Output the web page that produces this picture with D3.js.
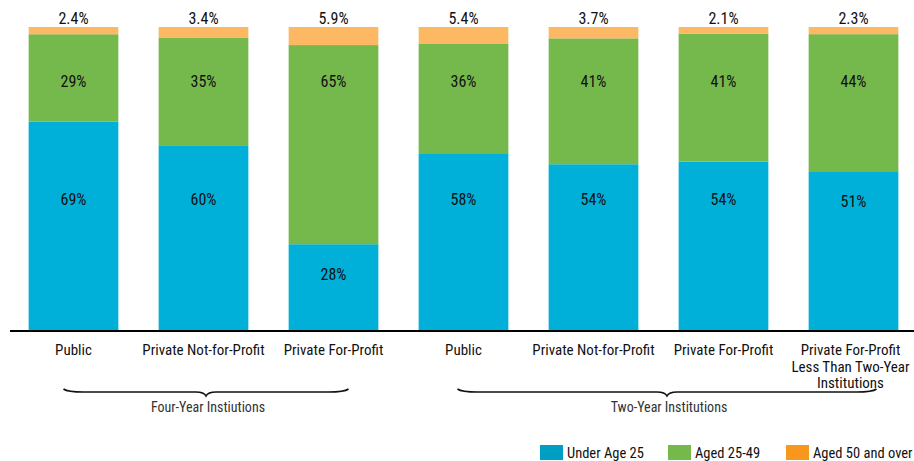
<!DOCTYPE html>
<html lang="en">
  <head>
    <meta charset="utf-8">
    <script src="https://d3js.org/d3.v7.min.js"></script>
    <style>
      body { margin: 0; background: #fff; }
      text { font-family: "Liberation Sans Narrow", "Arial Narrow", "Roboto Condensed", sans-serif; }
    </style>
  </head>
  <body>
    <svg width="914" height="461"></svg>
    <script>
      // categories (one entry per bar), label lines split by "|"
      var categories = [
        "Public",
        "Private Not-for-Profit",
        "Private For-Profit",
        "Public",
        "Private Not-for-Profit",
        "Private For-Profit",
        "Private For-Profit|Less Than Two-Year|Institutions"
      ];
      var series = ["Under Age 25", "Aged 25-49", "Aged 50 and over"];
      var under25 = [69, 60, 28, 58, 54, 54, 51];
      var aged25to49 = [29, 35, 65, 36, 41, 41, 44];
      var aged50plus = [2.4, 3.4, 5.9, 5.4, 3.7, 2.1, 2.3];

      // groups of bars under a brace
      var groups = [
        { name: "Four-Year Instiutions", first: 0, last: 2 },
        { name: "Two-Year Institutions", first: 3, last: 6 }
      ];

      var barColors = ["#00b0d8", "#75b84c", "#fdb863"];
      var legendColors = ["#009ec3", "#75b84c", "#f7971e"];

      var svg = d3.select("svg");

      // build rows for the stack
      var rows = categories.map(function (c, i) {
        return { idx: i, cat: c, s0: under25[i], s1: aged25to49[i], s2: aged50plus[i] };
      });

      var stack = d3.stack()
        .keys(["s0", "s1", "s2"])
        .offset(d3.stackOffsetExpand);
      var layers = stack(rows);

      var x = d3.scaleBand()
        .domain(d3.range(categories.length))
        .range([8.5, 918.5])
        .paddingInner(0.31)
        .paddingOuter(0.155);

      var y = d3.scaleLinear().domain([0, 1]).range([330, 27]);

      // bars
      svg.append("g")
        .selectAll("g")
        .data(layers)
        .enter()
        .append("g")
        .attr("fill", function (d, i) { return barColors[i]; })
        .selectAll("rect")
        .data(function (d) { return d; })
        .enter()
        .append("rect")
        .attr("x", function (d) { return x(d.data.idx); })
        .attr("width", x.bandwidth())
        .attr("y", function (d) { return y(d[1]); })
        .attr("height", function (d) { return y(d[0]) - y(d[1]); });

      // value labels inside the blue and green segments
      var labelPos = [0.43, 0.82];
      [0, 1].forEach(function (k) {
        var vals = k === 0 ? under25 : aged25to49;
        svg.append("g")
          .selectAll("text")
          .data(layers[k])
          .enter()
          .append("text")
          .attr("x", function (d) { return x(d.data.idx) + x.bandwidth() / 2; })
          .attr("y", function (d) {
            var top = y(d[1]), bot = y(d[0]);
            var p = y(labelPos[k]);
            p = Math.max(p, top + 30);
            p = Math.min(p, (top + bot) / 2 + 6);
            return p;
          })
          .attr("dy", "0.35em")
          .attr("text-anchor", "middle")
          .style("font-size", "16px")
          .style("fill", "#111")
          .text(function (d, i) { return vals[i] + "%"; });
      });

      // small values above the bars
      svg.append("g")
        .selectAll("text")
        .data(layers[2])
        .enter()
        .append("text")
        .attr("x", function (d) { return x(d.data.idx) + x.bandwidth() / 2; })
        .attr("y", function (d) { return y(d[1]) - 3; })
        .attr("text-anchor", "middle")
        .style("font-size", "16px")
        .style("fill", "#111")
        .text(function (d, i) { return aged50plus[i] + "%"; });

      // baseline
      svg.append("line")
        .attr("x1", 10).attr("x2", 914)
        .attr("y1", y(0) + 1).attr("y2", y(0) + 1)
        .style("stroke", "#000")
        .style("stroke-width", 2);

      // category labels
      svg.append("g")
        .selectAll("text")
        .data(categories)
        .enter()
        .append("text")
        .attr("x", function (d, i) { return x(i) + x.bandwidth() / 2 - (i === 6 ? 3 : 0); })
        .attr("y", 355)
        .attr("text-anchor", "middle")
        .style("font-size", "15px")
        .style("fill", "#111")
        .each(function (d) {
          var t = d3.select(this);
          d.split("|").forEach(function (line, j) {
            t.append("tspan")
              .attr("x", t.attr("x"))
              .attr("dy", j === 0 ? 0 : 16.5)
              .text(line);
          });
        });

      // braces under the groups
      var braceY = 389;
      groups.forEach(function (g) {
        var x0 = x(g.first) + x.bandwidth() / 2 - 10;
        var x1 = x(g.last) + x.bandwidth() / 2 + (g.first === 0 ? 15 : 23);
        if (g.first !== 0) x0 += 4;
        var xm = (x0 + x1) / 2;
        var p = d3.path();
        p.moveTo(x0, braceY);
        p.quadraticCurveTo(x0 + 4, braceY + 3, x0 + 20, braceY + 3);
        p.lineTo(xm - 10, braceY + 3);
        p.quadraticCurveTo(xm - 2, braceY + 3, xm, braceY + 7);
        p.quadraticCurveTo(xm + 2, braceY + 3, xm + 10, braceY + 3);
        p.lineTo(x1 - 20, braceY + 3);
        p.quadraticCurveTo(x1 - 4, braceY + 3, x1, braceY);
        svg.append("path")
          .attr("d", p.toString())
          .style("fill", "none")
          .style("stroke", "#111")
          .style("stroke-width", 1.6);
        svg.append("text")
          .attr("x", xm + 2)
          .attr("y", braceY + 23)
          .attr("text-anchor", "middle")
          .style("font-size", "14px")
          .style("fill", "#333")
          .text(g.name);
      });

      // legend
      var legendX = [540, 668, 786];
      var legend = svg.append("g");
      series.forEach(function (s, i) {
        legend.append("rect")
          .attr("x", legendX[i]).attr("y", 445)
          .attr("width", 23).attr("height", 15)
          .style("fill", legendColors[i]);
        legend.append("text")
          .attr("x", legendX[i] + 27).attr("y", 452.5)
          .attr("dy", "0.35em")
          .style("font-size", "14.5px")
          .style("fill", "#111")
          .text(s);
      });
    </script>
  </body>
</html>
